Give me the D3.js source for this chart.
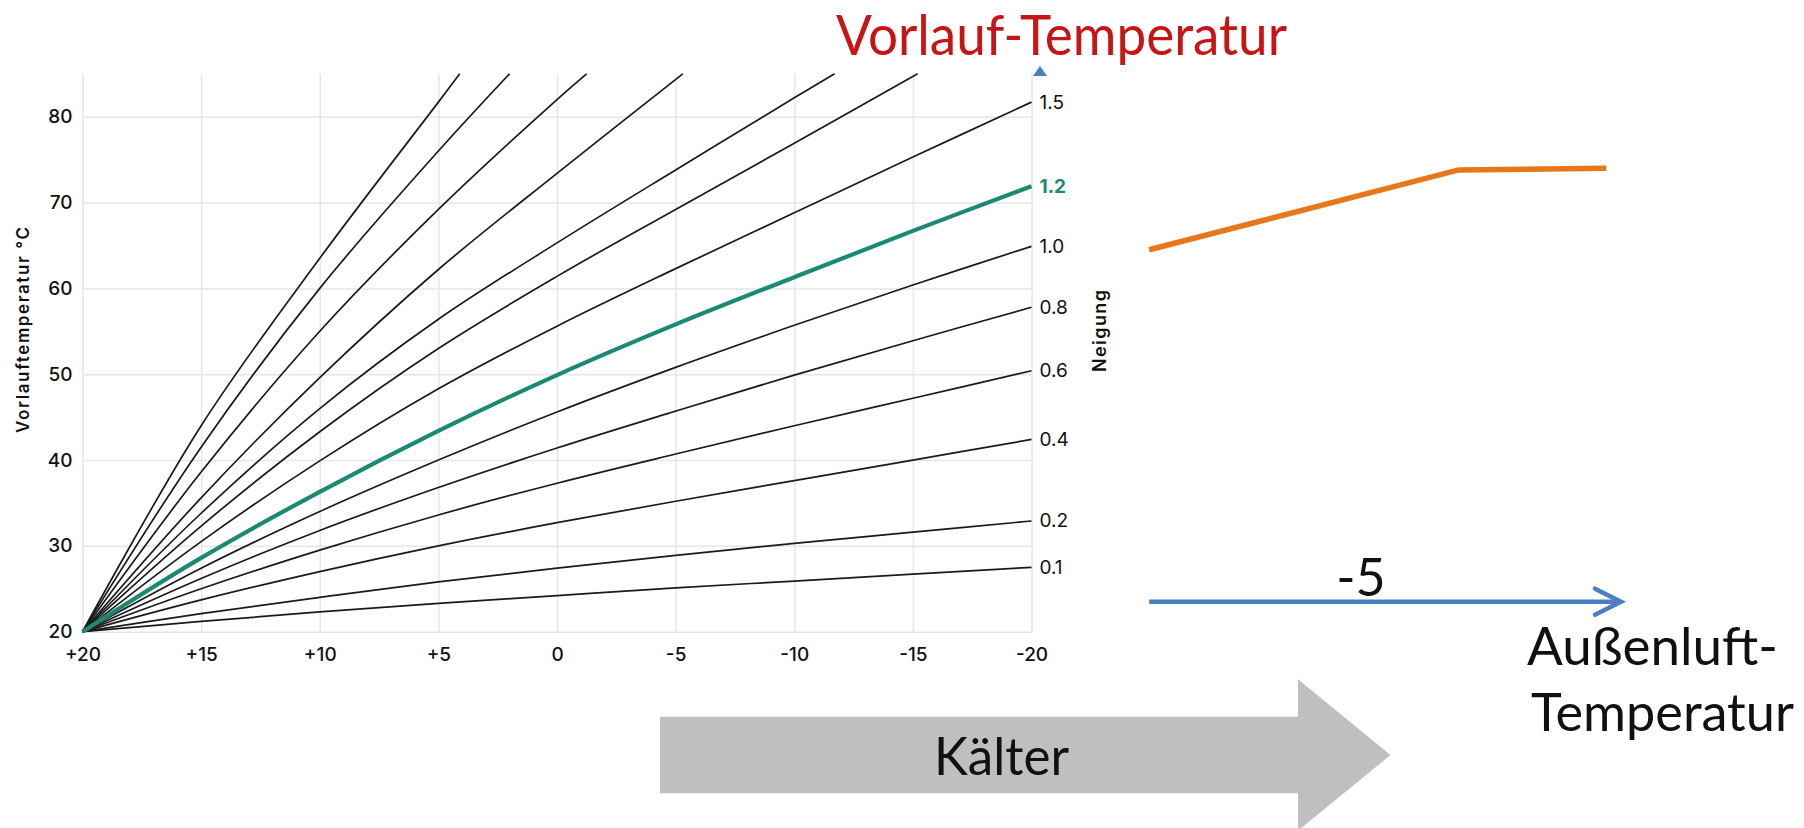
<!DOCTYPE html>
<html>
<head>
<meta charset="utf-8">
<script src="https://cdn.jsdelivr.net/npm/d3@7"></script>
<style>
  html, body { margin: 0; padding: 0; background: #fff; }
  svg { display: block; }
</style>
</head>
<body>
<svg id="chart" width="1804" height="828"></svg>
<script>
/* Heizkurven (Neigung) + overlay sketch */

// outdoor temperature samples, °C (x axis runs from +20 to -20)
var outdoorTemps = [20, 15, 10, 5, 0, -5, -10, -15, -20];
var xTickLabels = ['+20', '+15', '+10', '+5', '0', '-5', '-10', '-15', '-20'];
var yTicks = [20, 30, 40, 50, 60, 70, 80];

// flow temperature read at outdoorTemps, one array per labelled curve
var curve01 = [20, 21.2, 22.3, 23.3, 24.2, 25.1, 25.9, 26.7, 27.5];
var curve02 = [20, 22.1, 24.0, 25.8, 27.4, 28.9, 30.3, 31.6, 32.9];
var curve04 = [20, 23.7, 27.0, 30.0, 32.7, 35.2, 37.6, 40.0, 42.4];
var curve06 = [20, 25.0, 29.5, 33.6, 37.3, 40.7, 44.0, 47.2, 50.4];
var curve08 = [20, 26.2, 31.8, 36.8, 41.4, 45.7, 49.9, 53.9, 57.8];
var curve10 = [20, 27.4, 34.0, 40.0, 45.6, 50.8, 55.7, 60.4, 64.9];
var curve12 = [20, 28.6, 36.3, 43.4, 49.9, 55.8, 61.3, 66.7, 71.9];
var curve15 = [20, 30.5, 39.9, 48.3, 55.6, 62.3, 68.8, 75.3, 81.7];
var neigungLabels = ['0.1', '0.2', '0.4', '0.6', '0.8', '1.0', '1.2', '1.5'];

// steeper, unlabelled curves leave the chart at the top (null = off chart)
var steepD = [20, 32.3, 43.3, 53.0, 61.4, 69.2, 76.9, null, null];
var steepC = [20, 33.8, 46.0, 56.4, 65.3, 73.8, 82.2, null, null];
var steepB = [20, 35.6, 49.6, 62.2, 73.4, null, null, null, null];
var steepA = [20, 38.6, 55.0, 69.2, 82.0, null, null, null, null];
var steepS2 = [20, 41.5, 60.0, 76.0, null, null, null, null, null];
var steepS1 = [20, 44.0, 63.5, 81.7, null, null, null, null, null];
var steepExitTemps = [-15.2, -11.7, -5.3, -1.25, 2.0, 4.1];

// overlay sketch: Außenluft vs Vorlauf, orange heating curve
var sketchOutdoor = [11.5, -12.6, -24.1];
var sketchFlow = [64.5, 73.8, 74.0];
var sketchTick = -5;

var plot = { left: 82.5, right: 1031.5, top: 73.8, bottom: 631.7 };
var tickFont = 'Inter, "DejaVu Sans", sans-serif';
var slideFont = 'Lato, "Open Sans", sans-serif';
var green = '#1b8a73';

var svg = d3.select('#chart');

var x = d3.scaleLinear().domain([20, -20]).range([plot.left, plot.right]);
var y = d3.scaleLinear().domain([20, 85]).range([plot.bottom, plot.top]);
var sketchX = d3.scaleLinear().domain([20, -5]).range([1040, 1361]);

/* ---- sketch behind / around the chart ---- */

var sketch = svg.append('g').attr('class', 'sketch');

// y axis arrow head of the sketch (rest is hidden under the chart)
sketch.append('path')
  .attr('d', 'M' + sketchX(20) + ',66 L' + (sketchX(20) + 7) + ',76 L' + (sketchX(20) - 7) + ',76 Z')
  .attr('fill', '#4a7fc1');

var axisY = y(23.5);
var axisEnd = -25.25;
sketch.append('line')
  .attr('x1', sketchX(sketchOutdoor[0])).attr('x2', sketchX(axisEnd) - 3)
  .attr('y1', axisY).attr('y2', axisY)
  .attr('stroke', '#4a7fc1').attr('stroke-width', 4.5);
sketch.append('path')
  .attr('d', 'M' + (sketchX(axisEnd) - 26) + ',' + (axisY - 13) +
             'L' + sketchX(axisEnd) + ',' + axisY +
             'L' + (sketchX(axisEnd) - 26) + ',' + (axisY + 13))
  .attr('fill', 'none').attr('stroke', '#4a7fc1')
  .attr('stroke-width', 4.5).attr('stroke-linecap', 'round');

sketch.append('text')
  .attr('x', sketchX(sketchTick)).attr('y', 596)
  .attr('text-anchor', 'middle')
  .attr('font-family', slideFont).attr('font-size', 52)
  .attr('fill', '#111')
  .text(String(sketchTick));

sketch.append('path')
  .datum(sketchOutdoor.map(function(t, i) { return [t, sketchFlow[i]]; }))
  .attr('d', d3.line().x(function(d) { return sketchX(d[0]); }).y(function(d) { return y(d[1]); }))
  .attr('fill', 'none').attr('stroke', '#e8761b').attr('stroke-width', 5.5);

sketch.append('text')
  .attr('x', 836).attr('y', 55)
  .attr('font-family', slideFont).attr('font-size', 56)
  .attr('fill', '#c81414')
  .attr('textLength', 451).attr('lengthAdjust', 'spacingAndGlyphs')
  .text('Vorlauf-Temperatur');

sketch.append('text')
  .attr('x', 1527).attr('y', 665)
  .attr('font-family', slideFont).attr('font-size', 52)
  .attr('fill', '#111')
  .attr('textLength', 251).attr('lengthAdjust', 'spacingAndGlyphs')
  .text('Außenluft-');
sketch.append('text')
  .attr('x', 1531).attr('y', 731)
  .attr('font-family', slideFont).attr('font-size', 52)
  .attr('fill', '#111')
  .attr('textLength', 263).attr('lengthAdjust', 'spacingAndGlyphs')
  .text('Temperatur');

// grey "Kälter" arrow
var arrow = { x0: 660, xHead: 1298, xTip: 1390.5, cy: 755, body: 38.3, head: 75.7 };
sketch.append('path')
  .attr('d', 'M' + arrow.x0 + ',' + (arrow.cy - arrow.body) +
             'L' + arrow.xHead + ',' + (arrow.cy - arrow.body) +
             'L' + arrow.xHead + ',' + (arrow.cy - arrow.head) +
             'L' + arrow.xTip + ',' + arrow.cy +
             'L' + arrow.xHead + ',' + (arrow.cy + arrow.head) +
             'L' + arrow.xHead + ',' + (arrow.cy + arrow.body) +
             'L' + arrow.x0 + ',' + (arrow.cy + arrow.body) + 'Z')
  .attr('fill', '#bfbfbf');
sketch.append('text')
  .attr('x', 1001.5).attr('y', 775)
  .attr('text-anchor', 'middle')
  .attr('font-family', slideFont).attr('font-size', 53)
  .attr('fill', '#111')
  .attr('textLength', 135).attr('lengthAdjust', 'spacingAndGlyphs')
  .text('Kälter');

/* ---- heating curve chart ---- */

var chart = svg.append('g').attr('class', 'heizkurven');

// grid
chart.append('g')
  .attr('transform', 'translate(0,' + plot.bottom + ')')
  .call(d3.axisBottom(x).tickValues(outdoorTemps).tickSize(-(plot.bottom - plot.top)).tickFormat(''))
  .call(function(g) { g.select('.domain').remove(); })
  .selectAll('line').attr('stroke', '#e6e6e6').attr('stroke-width', 1.5);
chart.append('g')
  .attr('transform', 'translate(' + plot.left + ',0)')
  .call(d3.axisLeft(y).tickValues(yTicks).tickSize(-(plot.right - plot.left)).tickFormat(''))
  .call(function(g) { g.select('.domain').remove(); })
  .selectAll('line').attr('stroke', '#e6e6e6').attr('stroke-width', 1.5);

// tick labels
chart.append('g')
  .attr('transform', 'translate(0,' + plot.bottom + ')')
  .call(d3.axisBottom(x).tickValues(outdoorTemps).tickSize(0).tickPadding(16)
    .tickFormat(function(d, i) { return xTickLabels[i]; }))
  .call(function(g) { g.select('.domain').remove(); })
  .attr('font-family', tickFont).attr('font-size', 19).attr('font-weight', 500)
  .selectAll('text').attr('fill', '#111');
chart.append('g')
  .attr('transform', 'translate(' + plot.left + ',0)')
  .call(d3.axisLeft(y).tickValues(yTicks).tickSize(0).tickPadding(10))
  .call(function(g) { g.select('.domain').remove(); })
  .attr('font-family', tickFont).attr('font-size', 19).attr('font-weight', 500)
  .selectAll('text').attr('fill', '#111');

chart.append('text')
  .attr('transform', 'translate(23,330) rotate(-90)')
  .attr('text-anchor', 'middle').attr('dominant-baseline', 'central')
  .attr('font-family', tickFont).attr('font-size', 17).attr('font-weight', 600)
  .attr('fill', '#111')
  .attr('textLength', 206)
  .text('Vorlauftemperatur °C');

chart.append('text')
  .attr('transform', 'translate(1099,331) rotate(-90)')
  .attr('text-anchor', 'middle').attr('dominant-baseline', 'central')
  .attr('font-family', tickFont).attr('font-size', 18).attr('font-weight', 600)
  .attr('fill', '#111')
  .attr('textLength', 82)
  .text('Neigung');

// curves
var line = d3.line()
  .x(function(d) { return x(d[0]); })
  .y(function(d) { return y(d[1]); })
  .curve(d3.curveCatmullRom.alpha(0.5));

function toPoints(values) {
  return outdoorTemps.map(function(t, i) { return [t, values[i]]; })
    .filter(function(d) { return d[1] !== null; });
}

var steep = [steepD, steepC, steepB, steepA, steepS2, steepS1];
steep.forEach(function(vals, i) {
  var pts = toPoints(vals);
  pts.push([steepExitTemps[i], y.domain()[1]]);
  chart.append('path').datum(pts)
    .attr('d', line)
    .attr('fill', 'none').attr('stroke', '#1a1a1a').attr('stroke-width', 1.7);
});

var labelled = [curve01, curve02, curve04, curve06, curve08, curve10, curve12, curve15];
labelled.forEach(function(vals, i) {
  if (neigungLabels[i] === '1.2') return;
  chart.append('path').datum(toPoints(vals))
    .attr('d', line)
    .attr('fill', 'none').attr('stroke', '#1a1a1a').attr('stroke-width', 1.7);
});
chart.append('path').datum(toPoints(curve12))
  .attr('d', line)
  .attr('fill', 'none').attr('stroke', green).attr('stroke-width', 4.2);

chart.append('g').selectAll('text')
  .data(labelled)
  .enter().append('text')
  .attr('x', x(-20) + 8)
  .attr('y', function(d) { return y(d[d.length - 1]); })
  .attr('dominant-baseline', 'central')
  .attr('font-family', tickFont).attr('font-size', 19)
  .attr('font-weight', function(d, i) { return neigungLabels[i] === '1.2' ? 700 : 400; })
  .attr('fill', function(d, i) { return neigungLabels[i] === '1.2' ? green : '#111'; })
  .text(function(d, i) { return neigungLabels[i]; });
</script>
</body>
</html>
